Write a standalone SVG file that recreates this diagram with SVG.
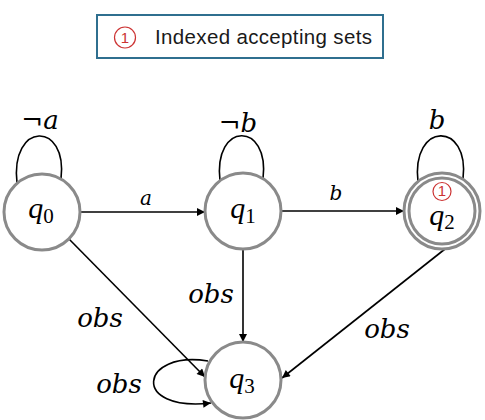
<svg xmlns="http://www.w3.org/2000/svg" width="485" height="420" viewBox="0 0 485 420">
<defs>
<marker id="arr" viewBox="0 0 10 10" refX="10" refY="5" markerWidth="10" markerHeight="8" markerUnits="userSpaceOnUse" orient="auto">
<path d="M0,0 L10,5 L0,10 Z" fill="#000"/>
</marker>
<style>
.edge{fill:none;stroke:#000;stroke-width:1.6}
.node{fill:#fff;stroke:#8a8a8a;stroke-width:3}
.q{font-family:"Liberation Serif",serif;font-style:italic;font-size:30px;fill:#000}
.sub{font-family:"Liberation Serif",serif;font-style:normal;font-size:21px}
.m{font-family:"DejaVu Serif",serif;font-style:italic;font-size:26px;fill:#000;text-anchor:middle}
.ms{font-family:"DejaVu Serif",serif;font-style:italic;font-size:20px;fill:#000;text-anchor:middle}
.neg{font-style:normal}
.idx{fill:none;stroke:#cc3333;stroke-width:1.2}
.idxt{font-family:"Liberation Sans",sans-serif;font-size:15px;fill:#cc3333;text-anchor:middle}
</style>
</defs>
<rect width="485" height="420" fill="#fff"/>
<g id="legend">
<rect x="97" y="15" width="286" height="43" fill="#fff" stroke="#2f6f8f" stroke-width="2"/>
<circle class="idx" cx="125" cy="37.5" r="10.5"/>
<text class="idxt" x="125" y="43">1</text>
<text x="155" y="43.5" font-family="Liberation Sans, sans-serif" font-size="20.5px" fill="#1a1a1a" textLength="217">Indexed accepting sets</text>
</g>
<g id="connectors">
<path class="edge" d="M17,183 C10,121 68,121 61,179"/>
<path class="edge" d="M220,181 C213,121 270,121 263,179"/>
<path class="edge" d="M418,182 C411,121 470,121 463,179"/>
<path class="edge" d="M81,212 L205,212" marker-end="url(#arr)"/>
<path class="edge" d="M281,211 L404,211" marker-end="url(#arr)"/>
<path class="edge" d="M243,249 L243,342" marker-end="url(#arr)"/>
<path class="edge" d="M69,239 L205,377" marker-end="url(#arr)"/>
<path class="edge" d="M445,249 L282,378" marker-end="url(#arr)"/>
<path class="edge" d="M208,361 C140,350 130,412 211,403" marker-end="url(#arr)"/>
<text class="m" x="40" y="129"><tspan class="neg">¬</tspan>a</text>
<text class="m" x="238" y="132"><tspan class="neg">¬</tspan>b</text>
<text class="m" x="437" y="129">b</text>
<text class="ms" x="146" y="205">a</text>
<text class="ms" x="336" y="200">b</text>
<text class="m" x="100" y="327">obs</text>
<text class="m" x="211" y="303">obs</text>
<text class="m" x="387" y="338">obs</text>
<text class="m" x="119" y="393">obs</text>
</g>
<g id="q0">
<circle class="node" cx="42" cy="212" r="38"/>
<text class="q" x="41" y="218" text-anchor="middle">q<tspan class="sub" dy="5">0</tspan></text>
</g>
<g id="q1">
<circle class="node" cx="243" cy="211" r="38"/>
<text class="q" x="243" y="218" text-anchor="middle">q<tspan class="sub" dy="5">1</tspan></text>
</g>
<g id="q2">
<circle class="node" cx="442" cy="211" r="38"/>
<circle class="node" cx="442" cy="211" r="33"/>
<circle class="idx" cx="442" cy="191.5" r="9"/>
<text class="idxt" x="442" y="196" font-size="13px">1</text>
<text class="q" x="442" y="225" text-anchor="middle">q<tspan class="sub" dy="4">2</tspan></text>
</g>
<g id="q3">
<circle class="node" cx="243" cy="380" r="38"/>
<text class="q" x="242" y="388" text-anchor="middle">q<tspan class="sub" dy="5">3</tspan></text>
</g>
</svg>
